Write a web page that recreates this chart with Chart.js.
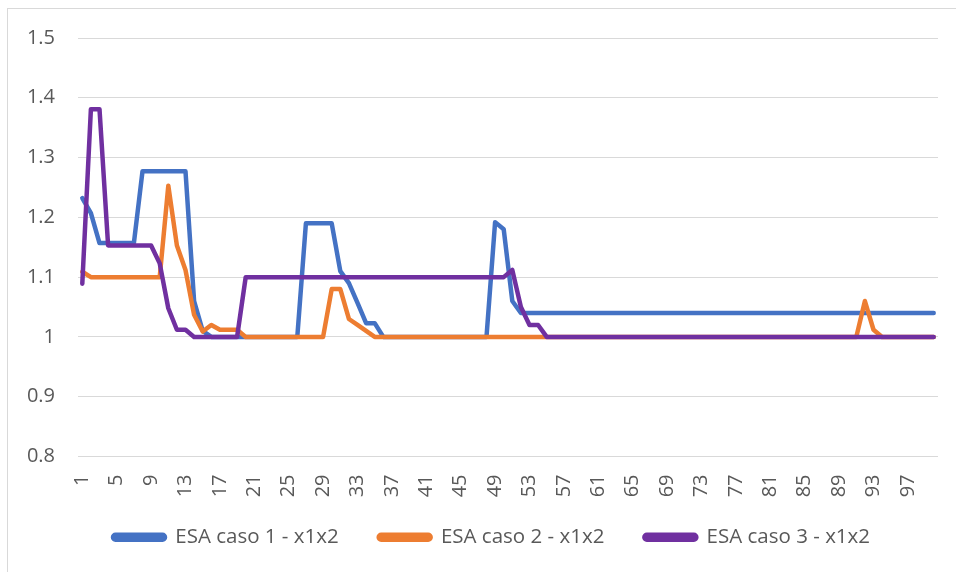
<!DOCTYPE html>
<html>
<head>
<meta charset="utf-8">
<script src="https://cdn.jsdelivr.net/npm/chart.js@4/dist/chart.umd.min.js"></script>
<style>
  html, body { margin: 0; padding: 0; background: #ffffff; }
  #wrap { width: 956px; height: 572px; position: relative; }
</style>
</head>
<body>
<div id="wrap"><canvas id="c" width="956" height="572"></canvas></div>
<script>
const categories = [
  1,2,3,4,5,6,7,8,9,10,11,12,13,14,15,16,17,18,19,20,
  21,22,23,24,25,26,27,28,29,30,31,32,33,34,35,36,37,38,39,40,
  41,42,43,44,45,46,47,48,49,50,51,52,53,54,55,56,57,58,59,60,
  61,62,63,64,65,66,67,68,69,70,71,72,73,74,75,76,77,78,79,80,
  81,82,83,84,85,86,87,88,89,90,91,92,93,94,95,96,97,98,99,100
];
const seriesNames = ["ESA caso 1 - x1x2", "ESA caso 2 - x1x2", "ESA caso 3 - x1x2"];
const caso1 = [
  1.232,1.207,1.157,1.157,1.157,1.157,1.157,1.277,1.277,1.277,
  1.277,1.277,1.277,1.06,1.01,1.0,1.0,1.0,1.0,1.0,
  1.0,1.0,1.0,1.0,1.0,1.0,1.19,1.19,1.19,1.19,
  1.11,1.09,1.057,1.023,1.023,1.0,1.0,1.0,1.0,1.0,
  1.0,1.0,1.0,1.0,1.0,1.0,1.0,1.0,1.192,1.18,
  1.06,1.04,1.04,1.04,1.04,1.04,1.04,1.04,1.04,1.04,
  1.04,1.04,1.04,1.04,1.04,1.04,1.04,1.04,1.04,1.04,
  1.04,1.04,1.04,1.04,1.04,1.04,1.04,1.04,1.04,1.04,
  1.04,1.04,1.04,1.04,1.04,1.04,1.04,1.04,1.04,1.04,
  1.04,1.04,1.04,1.04,1.04,1.04,1.04,1.04,1.04,1.04
];
const caso2 = [
  1.109,1.1,1.1,1.1,1.1,1.1,1.1,1.1,1.1,1.1,
  1.253,1.153,1.112,1.037,1.009,1.02,1.012,1.012,1.012,1.0,
  1.0,1.0,1.0,1.0,1.0,1.0,1.0,1.0,1.0,1.08,
  1.08,1.03,1.02,1.01,1.0,1.0,1.0,1.0,1.0,1.0,
  1.0,1.0,1.0,1.0,1.0,1.0,1.0,1.0,1.0,1.0,
  1.0,1.0,1.0,1.0,1.0,1.0,1.0,1.0,1.0,1.0,
  1.0,1.0,1.0,1.0,1.0,1.0,1.0,1.0,1.0,1.0,
  1.0,1.0,1.0,1.0,1.0,1.0,1.0,1.0,1.0,1.0,
  1.0,1.0,1.0,1.0,1.0,1.0,1.0,1.0,1.0,1.0,
  1.0,1.06,1.012,1.0,1.0,1.0,1.0,1.0,1.0,1.0
];
const caso3 = [
  1.089,1.381,1.381,1.153,1.153,1.153,1.153,1.153,1.153,1.123,
  1.048,1.012,1.012,1.0,1.0,1.0,1.0,1.0,1.0,1.1,
  1.1,1.1,1.1,1.1,1.1,1.1,1.1,1.1,1.1,1.1,
  1.1,1.1,1.1,1.1,1.1,1.1,1.1,1.1,1.1,1.1,
  1.1,1.1,1.1,1.1,1.1,1.1,1.1,1.1,1.1,1.1,
  1.112,1.05,1.02,1.02,1.0,1.0,1.0,1.0,1.0,1.0,
  1.0,1.0,1.0,1.0,1.0,1.0,1.0,1.0,1.0,1.0,
  1.0,1.0,1.0,1.0,1.0,1.0,1.0,1.0,1.0,1.0,
  1.0,1.0,1.0,1.0,1.0,1.0,1.0,1.0,1.0,1.0,
  1.0,1.0,1.0,1.0,1.0,1.0,1.0,1.0,1.0,1.0
];
const yMin = 0.8, yMax = 1.5, yStep = 0.1;
const xLabelEvery = 4;

const colors = ["#4472C4", "#ED7D31", "#7030A0"];
const FONT = "'Open Sans', 'Liberation Sans', sans-serif";
const TEXT = "#595959";
const LEGEND_PAD = 40;

const borderPlugin = {
  id: 'outerBorder',
  beforeDraw(chart) {
    const ctx = chart.ctx;
    ctx.save();
    ctx.fillStyle = '#ffffff';
    ctx.fillRect(0, 0, chart.width, chart.height);
    ctx.strokeStyle = '#d9d9d9';
    ctx.lineWidth = 1;
    ctx.strokeRect(7.5, 8.5, 1200, 1200);
    ctx.restore();
  }
};

const legendShift = {
  id: 'legendShift',
  afterLayout(chart) {
    const lg = chart.legend;
    if (!lg || !lg.lineWidths) return;
    const startX = (lg.left + LEGEND_PAD + lg.right - lg.lineWidths[0]) / 2;
    const dx = 113 - startX;
    const dy = 537 - (lg.top + LEGEND_PAD + 10);
    lg.left += dx; lg.right += dx;
    lg.top += dy; lg.bottom += dy;
  }
};

function mk(i, values) {
  return {
    label: seriesNames[i],
    data: values,
    borderColor: colors[i],
    backgroundColor: colors[i],
    borderWidth: 4.5,
    pointRadius: 0,
    pointHoverRadius: 0,
    tension: 0,
    fill: false,
    borderCapStyle: 'round',
    borderJoinStyle: 'round'
  };
}

new Chart(document.getElementById('c'), {
  type: 'line',
  data: {
    labels: categories.map(String),
    datasets: [mk(2, caso3), mk(1, caso2), mk(0, caso1)]
  },
  options: {
    responsive: false,
    animation: false,
    devicePixelRatio: 1,
    layout: { padding: { left: 16, right: 18, top: 38, bottom: 0 } },
    plugins: {
      tooltip: { enabled: false },
      legend: {
        position: 'bottom',
        reverse: true,
        labels: {
          boxWidth: 52,
          boxHeight: 5,
          useBorderRadius: true,
          borderRadius: 2.5,
          padding: LEGEND_PAD,
          color: TEXT,
          font: { family: FONT, size: 20.5 }
        }
      }
    },
    scales: {
      x: {
        type: 'category',
        offset: true,
        grid: { display: false, drawTicks: false },
        border: { display: false },
        ticks: {
          autoSkip: false,
          maxRotation: 90,
          minRotation: 90,
          padding: 18,
          color: TEXT,
          font: { family: FONT, size: 20 },
          callback: function (v, i) { return (i % xLabelEvery === 0) ? this.getLabelForValue(v) : ''; }
        },
        afterFit(scale) {
          scale.height = 45;
          scale.paddingLeft = 0;
          scale.paddingRight = 0;
        }
      },
      y: {
        min: yMin,
        max: yMax,
        grid: { color: '#d9d9d9', lineWidth: 1, drawTicks: false },
        border: { display: false },
        ticks: {
          stepSize: yStep,
          padding: 23,
          color: TEXT,
          font: { family: FONT, size: 20 },
          callback: (v) => String(Number(v.toFixed(1)))
        },
        afterFit(scale) {
          scale.width = 62;
          scale.paddingTop = 0;
          scale.paddingBottom = 0;
        }
      }
    }
  },
  plugins: [borderPlugin, legendShift]
});
</script>
</body>
</html>
